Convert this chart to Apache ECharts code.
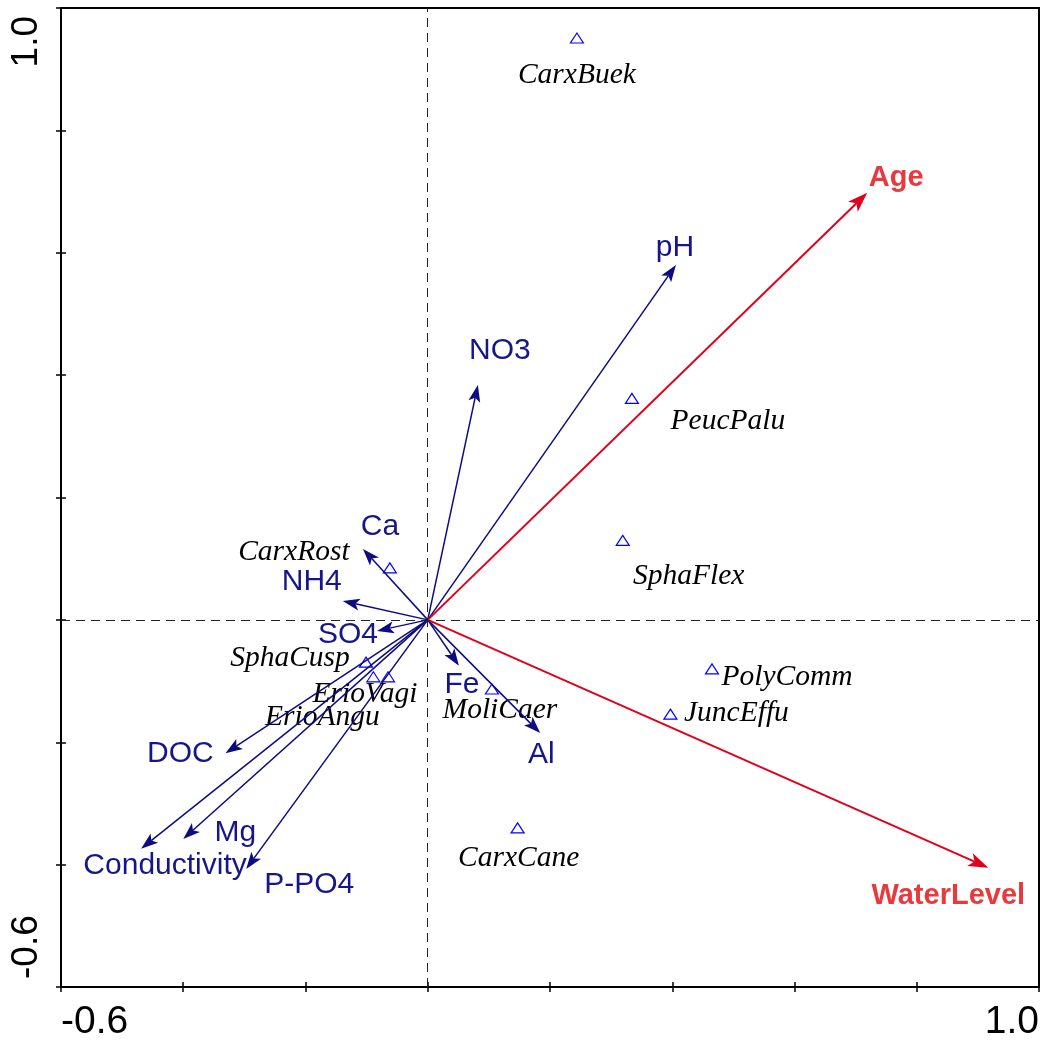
<!DOCTYPE html>
<html>
<head>
<meta charset="utf-8">
<script src="https://cdn.jsdelivr.net/npm/echarts@6/dist/echarts.min.js"></script>
<style>
  html, body { margin: 0; padding: 0; background: #fff; }
  #chart { width: 1043px; height: 1044px; }
</style>
</head>
<body>
<div id="chart"></div>
<script>
// environmental variables (arrows, navy)
const envNames = ['pH', 'NO3', 'Ca', 'NH4', 'SO4', 'Fe', 'Al', 'DOC', 'Conductivity', 'Mg', 'P-PO4'];
const envX = [0.406, 0.082, -0.106, -0.139, -0.083, 0.051, 0.184, -0.331, -0.469, -0.400, -0.297];
const envY = [0.580, 0.384, 0.116, 0.031, -0.018, -0.075, -0.185, -0.218, -0.374, -0.358, -0.407];

// supplementary variables (arrows, red)
const suppNames = ['Age', 'WaterLevel'];
const suppX = [0.719, 0.917];
const suppY = [0.698, -0.405];

// species scores (triangles)
const spNames = ['CarxBuek', 'PeucPalu', 'SphaFlex', 'CarxRost', 'SphaCusp', 'ErioVagi', 'ErioAngu',
                 'MoliCaer', 'PolyComm', 'JuncEffu', 'CarxCane'];
const spX = [0.244, 0.334, 0.319, -0.062, -0.101, -0.065, -0.089, 0.105, 0.465, 0.397, 0.147];
const spY = [0.951, 0.362, 0.130, 0.085, -0.069, -0.093, -0.093, -0.113, -0.080, -0.154, -0.340];

const axisMin = -0.6, axisMax = 1.0, axisStep = 0.2;

// label placement (pixel offsets from the arrow tip / symbol)
const envLabelOffset = [[-1, -17], [22, -34], [17, -22], [-31, -19], [-29, 4], [3, 19], [1, 22],
                        [-45, 0], [24, 17], [52, -6], [63, 16]];
const suppLabelOffset = [[29, -15], [-40, 28]];
const spLabelOffset = [[0, 37], [96, 23], [66, 36], [-96, -16], [-76, -4], [-23, 17], [-51, 40],
                       [8, 21], [75, 8], [66, -1], [1, 30]];

const chart = echarts.init(document.getElementById('chart'));

function endLabel(v) {
    if (Math.abs(v - axisMin) < 1e-9) return '{lo|' + v.toFixed(1) + '}';
    if (Math.abs(v - axisMax) < 1e-9) return '{hi|' + v.toFixed(1) + '}';
    return '';
}

function arrowSeries(names, xs, ys, offsets, opts) {
    return {
        type: 'custom',
        coordinateSystem: 'cartesian2d',
        silent: true,
        z: opts.z,
        data: xs.map((x, i) => [x, ys[i], i]),
        renderItem(params, api) {
            const i = api.value(2);
            const start = api.coord([0, 0]);
            const end = api.coord([api.value(0), api.value(1)]);
            const dx = end[0] - start[0], dy = end[1] - start[1];
            const len = Math.hypot(dx, dy);
            const ux = dx / len, uy = dy / len;
            const bx = end[0] - ux * opts.headLen, by = end[1] - uy * opts.headLen;
            const nx = bx + ux * opts.notch, ny = by + uy * opts.notch;
            const off = offsets[i];
            return {
                type: 'group',
                children: [
                    {
                        type: 'line',
                        shape: { x1: start[0], y1: start[1], x2: nx, y2: ny },
                        style: { stroke: opts.color, lineWidth: opts.width }
                    },
                    {
                        type: 'polygon',
                        shape: { points: [end, [bx - uy * opts.headW, by + ux * opts.headW], [nx, ny],
                                          [bx + uy * opts.headW, by - ux * opts.headW]] },
                        style: { fill: opts.color }
                    },
                    {
                        type: 'text',
                        x: end[0] + off[0],
                        y: end[1] + off[1],
                        style: {
                            text: names[i],
                            fill: opts.labelColor,
                            font: opts.font,
                            align: 'center',
                            verticalAlign: 'middle'
                        }
                    }
                ]
            };
        }
    };
}

const speciesSeries = {
    type: 'custom',
    coordinateSystem: 'cartesian2d',
    silent: true,
    z: 2,
    data: spX.map((x, i) => [x, spY[i], i]),
    renderItem(params, api) {
        const i = api.value(2);
        const p = api.coord([api.value(0), api.value(1)]);
        const off = spLabelOffset[i];
        const w = 6.5, h = 5;
        return {
            type: 'group',
            children: [
                {
                    type: 'polygon',
                    shape: { points: [[p[0], p[1] - h], [p[0] + w, p[1] + h], [p[0] - w, p[1] + h]] },
                    style: { fill: 'none', stroke: '#0000ff', lineWidth: 1.2 }
                },
                {
                    type: 'text',
                    x: p[0] + off[0],
                    y: p[1] + off[1],
                    style: {
                        text: spNames[i],
                        fill: '#000',
                        font: 'italic 29.5px "Liberation Serif"',
                        align: 'center',
                        verticalAlign: 'middle'
                    }
                }
            ]
        };
    }
};

const baseAxis = {
    type: 'value', min: axisMin, max: axisMax, interval: axisStep,
    splitLine: { show: false }
};

const tickStyle = { color: '#000', width: 1.5 };

const option = {
    animation: false,
    backgroundColor: '#fff',
    grid: { left: 61, right: 4, top: 8, bottom: 57, show: true, borderColor: '#000', borderWidth: 2 },
    xAxis: [
        Object.assign({}, baseAxis, {
            position: 'bottom',
            axisLine: { onZero: false, lineStyle: { color: '#000', width: 2 } },
            axisTick: { length: 5, lineStyle: tickStyle },
            axisLabel: {
                formatter: endLabel, color: '#000', fontSize: 39, fontFamily: 'Liberation Sans',
                margin: 16, alignMinLabel: 'left', alignMaxLabel: 'right',
                showMinLabel: true, showMaxLabel: true,
                rich: { lo: { fontSize: 39 }, hi: { fontSize: 39 } }
            }
        }),
        Object.assign({}, baseAxis, {
            position: 'bottom',
            axisLine: { show: false, onZero: false },
            axisTick: { inside: true, length: 5, lineStyle: tickStyle },
            axisLabel: { show: false }
        })
    ],
    yAxis: [
        Object.assign({}, baseAxis, {
            position: 'left',
            axisLine: { onZero: false, lineStyle: { color: '#000', width: 2 } },
            axisTick: { length: 5, lineStyle: tickStyle },
            axisLabel: {
                formatter: endLabel, color: '#000', fontSize: 37, fontFamily: 'Liberation Sans',
                rotate: 90, margin: 16, alignMinLabel: 'left', alignMaxLabel: 'right',
                showMinLabel: true, showMaxLabel: true,
                rich: {
                    lo: { fontSize: 37, padding: [0, 0, 0, 8] },
                    hi: { fontSize: 37, padding: [0, 8, 0, 0] }
                }
            }
        }),
        Object.assign({}, baseAxis, {
            position: 'left',
            axisLine: { show: false, onZero: false },
            axisTick: { inside: true, length: 5, lineStyle: tickStyle },
            axisLabel: { show: false }
        })
    ],
    series: [
        {
            type: 'scatter',
            data: [],
            silent: true,
            markLine: {
                silent: true,
                symbol: 'none',
                label: { show: false },
                lineStyle: { color: '#222', width: 1, type: [9, 6] },
                data: [{ xAxis: 0 }, { yAxis: 0 }]
            }
        },
        speciesSeries,
        arrowSeries(envNames, envX, envY, envLabelOffset, {
            z: 3, color: '#0c0c80', labelColor: '#16168a', width: 1.5,
            headLen: 17, headW: 6, notch: 4, font: '30px "Liberation Sans"'
        }),
        arrowSeries(suppNames, suppX, suppY, suppLabelOffset, {
            z: 4, color: '#e0001b', labelColor: '#e83a3e', width: 2,
            headLen: 20, headW: 7, notch: 5, font: 'bold 29px "Liberation Sans"'
        })
    ]
};

chart.setOption(option);
</script>
</body>
</html>
